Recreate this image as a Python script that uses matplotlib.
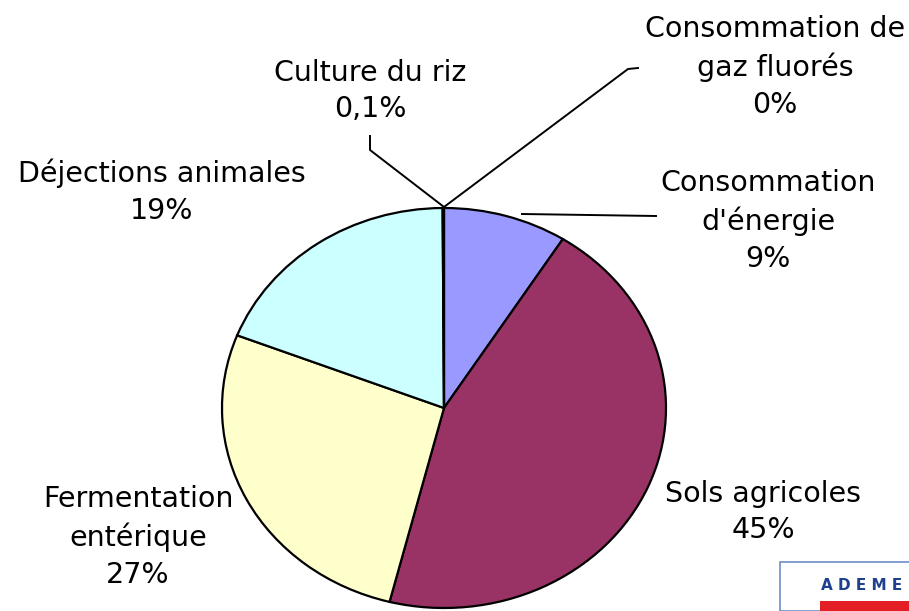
import matplotlib.pyplot as plt
from matplotlib.patches import Rectangle
from matplotlib.lines import Line2D

# Données (part des émissions, %)
categories = ["Consommation de\ngaz fluorés", "Consommation\nd'énergie", "Sols agricoles",
              "Fermentation\nentérique", "Déjections animales", "Culture du riz"]
valeurs = [0, 9, 45, 27, 19, 0.1]
etiquettes_pct = ["0%", "9%", "45%", "27%", "19%", "0,1%"]
couleurs = ["#9999FF", "#9999FF", "#993366", "#FFFFCC", "#CCFFFF", "#CCFFFF"]

W, H = 909, 611
fig = plt.figure(figsize=(W / 100, H / 100), dpi=100)

def fx(px):
    return px / W

def fy(py):
    return 1 - py / H

# pie legerement ovale comme l'original
cx, cy, rx, ry = 444, 408, 222, 200
ax = fig.add_axes([fx(cx - rx), fy(cy + ry), 2 * rx / W, 2 * ry / H])
ax.pie(valeurs, colors=couleurs, startangle=90, counterclock=False,
       wedgeprops=dict(edgecolor="black", linewidth=1.6), radius=1)
ax.set_aspect("auto")
ax.set_xlim(-1, 1)
ax.set_ylim(-1, 1)
ax.axis("off")
for p in ax.patches:
    p.set_clip_on(False)

# etiquettes (position en pixels)
pos = [(775, 67), (768, 221), (763, 512), (138, 537), (162, 192), (370, 91)]
for cat, pct, (x, y) in zip(categories, etiquettes_pct, pos):
    fig.text(fx(x), fy(y), cat + "\n" + pct, ha="center", va="center",
             fontsize=20.5, linespacing=1.4, color="black")

# lignes de rappel
rappels = [
    [(370, 136), (370, 150), (444, 207)],
    [(444, 207), (628, 69), (638, 68)],
    [(522, 214), (656, 216)],
]
for pts in rappels:
    xs = [fx(p[0]) for p in pts]
    ys = [fy(p[1]) for p in pts]
    fig.add_artist(Line2D(xs, ys, color="black", linewidth=1.4))

# logo ADEME (coin bas droit)
fig.add_artist(Rectangle((fx(780), fy(611)), fx(140), 49 / H, transform=fig.transFigure,
                         facecolor="white", edgecolor="#6c8fc8", linewidth=1.2))
fig.add_artist(Rectangle((fx(820), fy(611)), fx(95), 10 / H, transform=fig.transFigure,
                         facecolor="#e31e24", edgecolor="none"))
fig.text(fx(821), fy(585), "A D E M E", color="#1f3f8f", fontsize=11,
         fontweight="bold", ha="left", va="center")

fig.savefig("out.png", dpi=100)
